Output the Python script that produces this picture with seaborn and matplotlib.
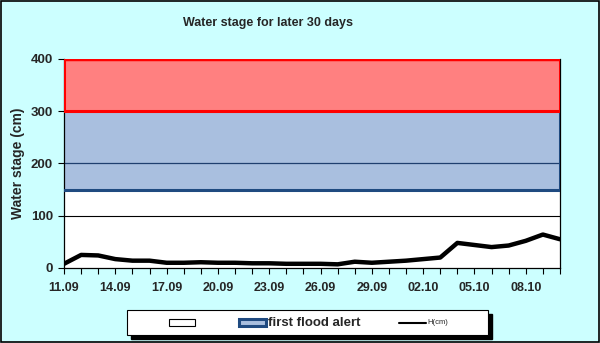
import matplotlib
matplotlib.use("Agg")
import matplotlib.pyplot as plt
import matplotlib.patches as mpatches
import matplotlib.lines as mlines
import seaborn as sns
import pandas as pd
import numpy as np

dates = ["11.09", "12.09", "13.09", "14.09", "15.09", "16.09", "17.09", "18.09", "19.09", "20.09",
         "21.09", "22.09", "23.09", "24.09", "25.09", "26.09", "27.09", "28.09", "29.09", "30.09",
         "01.10", "02.10", "03.10", "04.10", "05.10", "06.10", "07.10", "08.10", "09.10", "10.10"]
stage = [8, 25, 24, 17, 14, 14, 10, 10, 11, 10,
         10, 9, 9, 8, 8, 8, 7, 12, 10, 12,
         14, 17, 20, 48, 44, 40, 43, 52, 64, 55]
band_edges = [0, 150, 300, 400]
yticks = [0, 100, 200, 300, 400]

sns.set_theme(style="white")
plt.rcParams['font.family'] = ['Liberation Sans', 'DejaVu Sans']

fig = plt.figure(figsize=(6, 3.43), dpi=100)
fig.patch.set_facecolor("#CCFFFF")
fig.patches.append(mpatches.Rectangle((0.001, 0.002), 0.997, 0.995, transform=fig.transFigure,
                                      fill=False, edgecolor="black", linewidth=1.2))

ax = fig.add_axes([0.1067, 0.2187, 0.8266, 0.6093])
ax.set_facecolor("white")

n = len(dates)
xs = np.arange(n)
df = pd.DataFrame({"day": xs, "H": stage})

BLUE_FILL = "#A9BFDF"
BLUE_EDGE = "#1F4A80"
# bands
ax.axhspan(band_edges[1], band_edges[2], facecolor=BLUE_FILL, edgecolor="none", zorder=0)
ax.axhspan(band_edges[2], band_edges[3], facecolor="#FF8080", edgecolor="none", zorder=0)
ax.axhline(100, color="black", linewidth=0.8, zorder=1)
ax.axhline(200, color="#1F3F6F", linewidth=0.9, zorder=1)
ax.axhline(band_edges[1], color=BLUE_EDGE, linewidth=2.2, zorder=2.5)
ax.axvline(n - 1, ymin=band_edges[1] / 400, ymax=band_edges[2] / 400, color=BLUE_EDGE, linewidth=2.2, zorder=2.5)
ax.axhline(band_edges[2], color="red", linewidth=2.2, zorder=2.6)
ax.axhline(band_edges[3], color="red", linewidth=2.5, zorder=2.6)
ax.axvline(0, ymin=band_edges[2] / 400, ymax=1, color="red", linewidth=2.2, zorder=2.6)
ax.axvline(n - 1, ymin=band_edges[2] / 400, ymax=1, color="red", linewidth=2.2, zorder=2.6)

sns.lineplot(data=df, x="day", y="H", ax=ax, color="black", linewidth=3.2, zorder=3, legend=False)

ax.set_xlim(0, n - 1)
ax.set_ylim(0, 400)
ax.set_yticks(yticks)
ax.set_yticklabels([str(v) for v in yticks], fontsize=9.5, fontweight="bold")
ax.set_xticks(xs[::3])
ax.set_xticklabels(dates[::3], fontsize=9, fontweight="bold")
ax.set_xticks(xs, minor=True)
ax.tick_params(axis="x", which="both", direction="out", length=4, width=0.8, color="black",
               bottom=True, pad=6)
ax.tick_params(axis="y", direction="out", length=4, width=0.8, color="black", left=True, pad=4)
ax.set_xlabel("")
ax.set_ylabel("Water stage (cm)", fontsize=10, fontweight="bold", labelpad=4)

for side in ["left", "bottom", "right"]:
    ax.spines[side].set_color("black")
    ax.spines[side].set_linewidth(0.9)
    ax.spines[side].set_zorder(2)
ax.spines["top"].set_visible(False)

fig.text(268 / 600, 1 - 23 / 343, "Water stage for later 30 days", ha="center", va="center",
         fontsize=9, fontweight="bold")

# legend box with shadow
lx0, ly0, lw, lh = 127 / 600, 1 - 335 / 343, 361 / 600, 25 / 343
fig.patches.append(mpatches.Rectangle((lx0 + 4 / 600, ly0 - 4 / 343), lw, lh, transform=fig.transFigure,
                                      facecolor="black", edgecolor="black"))
fig.patches.append(mpatches.Rectangle((lx0, ly0), lw, lh, transform=fig.transFigure,
                                      facecolor="white", edgecolor="black", linewidth=0.8))
cy = 1 - 322.5 / 343
fig.patches.append(mpatches.Rectangle((169 / 600, cy - 3.5 / 343), 26 / 600, 7 / 343, transform=fig.transFigure,
                                      facecolor="white", edgecolor="black", linewidth=0.8))
fig.patches.append(mpatches.Rectangle((239 / 600, cy - 3.5 / 343), 27 / 600, 7 / 343, transform=fig.transFigure,
                                      facecolor=BLUE_FILL, edgecolor=BLUE_EDGE, linewidth=2.2))
fig.text(268 / 600, cy, "first flood alert", ha="left", va="center", fontsize=9.5, fontweight="bold")
fig.lines.append(mlines.Line2D([399 / 600, 426 / 600], [cy, cy], transform=fig.transFigure,
                               color="black", linewidth=1.5))
fig.text(427 / 600, cy, "H(cm)", ha="left", va="center", fontsize=5.5)

fig.savefig("out.png", dpi=100, facecolor=fig.get_facecolor())
